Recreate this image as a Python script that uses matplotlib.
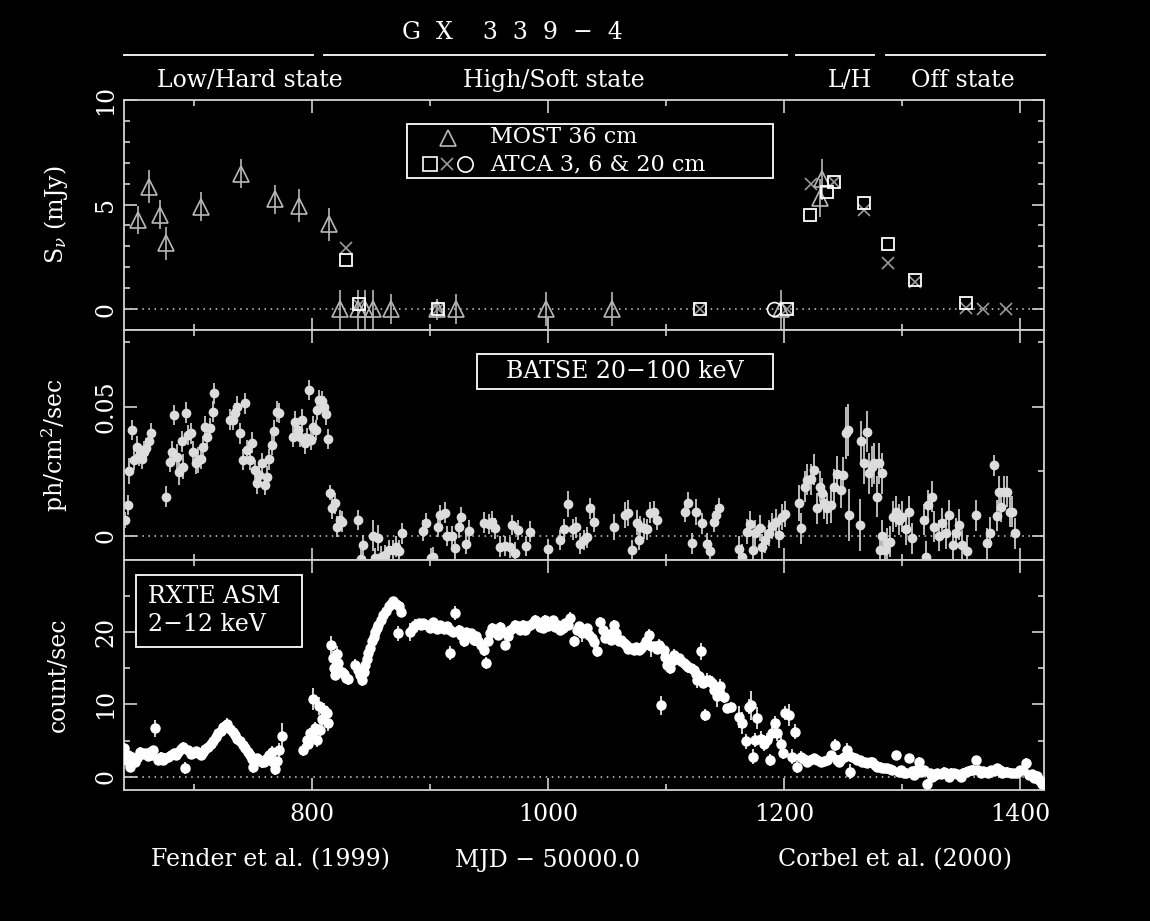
import numpy as np
import matplotlib
matplotlib.use("Agg")
import matplotlib.pyplot as plt
from matplotlib.ticker import MultipleLocator, FuncFormatter
from matplotlib.patches import Rectangle
from matplotlib.transforms import blended_transform_factory

plt.rcParams["font.family"] = ["DejaVu Serif"]
plt.rcParams["mathtext.fontset"] = "dejavuserif"

# ---- radio (top panel) ----
most_mjd = [652.6, 662, 671.5, 677, 706, 740, 769, 789, 815, 824, 839, 845, 852,
            867, 906, 922, 998, 1054, 1197, 1230, 1232]
most_flux = [4.24, 5.86, 4.52, 3.14, 4.9, 6.47, 5.25, 4.95, 4.05, 0, 0, 0, 0,
             0, 0, 0, 0, 0, 0, 5.3, 6.2]
most_err = [0.67, 0.8, 0.7, 0.8, 0.7, 0.7, 0.7, 0.8, 0.8, 0.93, 0.93, 0.93, 0.93,
            0.7, 0.5, 0.7, 0.8, 0.8, 0.93, 0.9, 1.0]

atca_sq_mjd = [829, 840, 907, 1129, 1202, 1222, 1236, 1242, 1268, 1288, 1311, 1354]
atca_sq_flux = [2.33, 0.24, 0.0, 0.0, 0.0, 4.5, 5.6, 6.1, 5.08, 3.1, 1.41, 0.3]
atca_x_mjd = [829, 840, 907, 1129, 1202, 1223, 1242, 1268, 1288, 1311, 1354, 1368, 1388]
atca_x_flux = [2.9, 0.2, 0.0, 0.0, 0.0, 6.0, 6.1, 4.76, 2.2, 1.3, 0.05, 0.0, 0.0]
atca_o_mjd = [1191]
atca_o_flux = [0.0]

# ---- BATSE 20-100 keV (middle panel) ----
bat_mjd = [
    642, 644, 645.5, 647.5, 649.8, 651.7, 654, 656, 658, 660, 662.4, 664,
    677, 680, 682, 683, 685.7, 688, 690, 691, 693.5, 695.5, 697.5,
    699.7, 702, 704, 706, 708, 709.6, 711.6, 714, 716, 717.5,
    730.8, 733, 735, 737, 739.3, 741.6, 743.5, 745, 747.8, 749.7, 752,
    753.5, 755.7, 757.7, 760, 762, 764, 766, 768, 770.4, 772.6,
    784.5, 786, 788, 790, 792, 794.4, 796.3, 797.5, 799.5, 801.4, 803.7, 804.8,
    806.5, 808.5, 810, 812, 813.6, 815.6, 817.5, 819.8, 821.8, 823.5, 825.5,
    839.5, 841.6, 843.8, 851.7, 853.7, 855.7, 858.5, 862, 865, 869, 871.5, 874, 876.3,
    894, 897, 901, 903, 906.5, 908.8, 913, 914.5, 918.7, 921, 924.3, 926.4, 931, 932.8,
    945.5, 949.7, 952.6, 955.4, 959.6, 964, 967.5, 969.5, 971.8, 975, 981.7, 984.5,
    999.8, 1010.5, 1013.4, 1016.8, 1021.3, 1024, 1027.4, 1030.3, 1033, 1035.4, 1038.7,
    1055.7, 1065.6, 1067.5, 1071, 1075, 1077, 1078, 1081, 1084, 1086.8, 1089.6, 1092.4,
    1116.4, 1118.4, 1122, 1125.7, 1130.5, 1134.8, 1137, 1140.4, 1142.7, 1144.6,
    1161.6, 1164.4, 1168.6, 1171.5, 1173.7, 1175.7, 1179.4, 1181.4,
    1184.2, 1187, 1190, 1192.7, 1195.5, 1198.4, 1200.4,
    1212.5, 1214.5, 1217.3, 1219.6, 1222.4, 1225.2, 1228, 1230, 1231.7, 1233.7,
    1236.5, 1239.3, 1242, 1245, 1248, 1250.2, 1252, 1254, 1255,
    1264.3, 1265.4, 1267.7, 1270, 1272, 1274, 1276.3, 1278.5, 1280.5, 1282.5, 1281,
    1283, 1285, 1287.2, 1290, 1292.4, 1294.3, 1297, 1300, 1302.8, 1305.7, 1308.5,
    1318.4, 1319.8, 1321.8, 1325.5, 1327, 1331, 1334, 1336.7, 1339.6, 1343.3, 1345.3, 1348, 1351,
    1354.6, 1362.3, 1372, 1374.3, 1377.7, 1380, 1382, 1383.4, 1386.2, 1389, 1391.3, 1393.3, 1395.3,
]
bat_flux = [
    0.0062, 0.012, 0.0253, 0.041, 0.0295, 0.0346, 0.031, 0.030, 0.0327, 0.034, 0.0366, 0.0398,
    0.0152, 0.0288, 0.0327, 0.0469, 0.0307, 0.0249, 0.0366, 0.0269, 0.0478, 0.0391, 0.0398,
    0.0327, 0.0282, 0.0295, 0.030, 0.0346, 0.0424, 0.0385, 0.0417, 0.0482, 0.0553,
    0.045, 0.045, 0.0476, 0.0501, 0.0398, 0.0295, 0.0514, 0.0333, 0.0295, 0.0362, 0.0256,
    0.0204, 0.0236, 0.0282, 0.0198, 0.023, 0.0297, 0.0353, 0.0408, 0.0482, 0.0476,
    0.0385, 0.0443, 0.0411, 0.0385, 0.045, 0.0359, 0.0379, 0.0566, 0.0372, 0.0424, 0.0411, 0.0488,
    0.0527, 0.0521, 0.0501, 0.0471, 0.0375, 0.0168, 0.0107, 0.0127, 0.0036, 0.0062, 0.0056,
    0.0062, -0.009, -0.0035, 0.0, -0.0087, -0.0009, -0.008, -0.0074, -0.0054, -0.0054, -0.0041, -0.0057, 0.001,
    0.002, 0.0049, -0.0087, -0.0083, 0.0036, 0.0081, 0.009, 0.0, 0.0, -0.0048, 0.0034, 0.0072, -0.003, 0.002,
    0.0052, 0.0047, 0.0055, 0.003, -0.0041, -0.0039, -0.0044, 0.0043, -0.0065, 0.0023, -0.0039, 0.0017,
    -0.0052, -0.0016, 0.0026, 0.0123, 0.0026, 0.0034, -0.003, -0.0016, -0.0005, 0.0107, 0.0055,
    0.0036, 0.0081, 0.0088, -0.0054, 0.0052, -0.0016, 0.0036, 0.003, 0.0026, 0.009, 0.0094, 0.0062,
    0.0094, 0.0129, -0.0028, 0.0094, 0.0049, -0.003, -0.0057, 0.0055, 0.0081, 0.0107,
    -0.0052, -0.008, 0.0017, 0.0047, -0.0054, 0.001, 0.003, -0.0041,
    -0.0016, 0.001, 0.0039, 0.0055, 0.0004, 0.0075, 0.0085,
    0.0127, 0.003, 0.0191, 0.0217, 0.022, 0.0256, 0.0107, 0.0191, 0.0165, 0.0127,
    0.0107, 0.012, 0.0191, 0.024, 0.0178, 0.0236, 0.040, 0.0411, 0.0081,
    0.0043, 0.0366, 0.0282, 0.0404, 0.0243, 0.0269, 0.0282, 0.0152, 0.0282, 0.0243, -0.0054,
    0.0, -0.0054, -0.0028, -0.0022, 0.0075, 0.0094, 0.0062, 0.0075, 0.0026, 0.0094, -0.0009,
    0.0062, -0.008, 0.012, 0.0152, 0.0036, 0.0, 0.0049, 0.001, 0.0081, -0.0035, 0.001, 0.0043, -0.0035,
    -0.0057, 0.0081, -0.0028, 0.0013, 0.0274, 0.0078, 0.0172, 0.0114, 0.0172, 0.0172, 0.0094, 0.0094, 0.001,
]
bat_err = [
    0.003, 0.004, 0.005, 0.004, 0.004, 0.004, 0.004, 0.004, 0.004, 0.004, 0.004, 0.004,
    0.004, 0.004, 0.004, 0.004, 0.005, 0.005, 0.004, 0.005, 0.004, 0.004, 0.004,
    0.004, 0.004, 0.005, 0.004, 0.004, 0.004, 0.004, 0.004, 0.004, 0.004,
    0.004, 0.004, 0.004, 0.004, 0.004, 0.004, 0.004, 0.004, 0.004, 0.004, 0.004,
    0.004, 0.004, 0.004, 0.004, 0.004, 0.004, 0.004, 0.004, 0.004, 0.004,
    0.004, 0.004, 0.004, 0.004, 0.004, 0.004, 0.004, 0.004, 0.004, 0.004, 0.004, 0.004,
    0.004, 0.004, 0.004, 0.004, 0.004, 0.003, 0.004, 0.004, 0.004, 0.004, 0.004,
    0.004, 0.004, 0.004, 0.006, 0.004, 0.005, 0.004, 0.004, 0.004, 0.004, 0.004, 0.004, 0.004,
    0.004, 0.004, 0.004, 0.004, 0.004, 0.004, 0.004, 0.004, 0.004, 0.004, 0.004, 0.004, 0.004, 0.004,
    0.004, 0.004, 0.004, 0.004, 0.004, 0.004, 0.004, 0.004, 0.004, 0.004, 0.004, 0.004,
    0.004, 0.004, 0.004, 0.005, 0.004, 0.004, 0.004, 0.004, 0.004, 0.004, 0.004,
    0.005, 0.005, 0.005, 0.004, 0.005, 0.004, 0.004, 0.004, 0.004, 0.004, 0.004, 0.004,
    0.004, 0.004, 0.004, 0.005, 0.004, 0.004, 0.004, 0.004, 0.004, 0.004,
    0.005, 0.005, 0.005, 0.005, 0.005, 0.005, 0.005, 0.005,
    0.005, 0.005, 0.005, 0.005, 0.005, 0.005, 0.005,
    0.007, 0.006, 0.006, 0.006, 0.006, 0.006, 0.006, 0.006, 0.006, 0.006,
    0.006, 0.007, 0.007, 0.007, 0.007, 0.007, 0.010, 0.010, 0.010,
    0.010, 0.008, 0.008, 0.008, 0.008, 0.008, 0.008, 0.008, 0.008, 0.008, 0.006,
    0.006, 0.006, 0.006, 0.006, 0.006, 0.006, 0.006, 0.006, 0.006, 0.006, 0.006,
    0.006, 0.006, 0.006, 0.006, 0.006, 0.006, 0.006, 0.006, 0.006, 0.006, 0.006, 0.006, 0.006,
    0.006, 0.006, 0.006, 0.006, 0.004, 0.006, 0.006, 0.006, 0.006, 0.006, 0.006, 0.006, 0.006,
]

# ---- RXTE ASM 2-12 keV (bottom panel), main trace ----
asm_mjd = [
    641, 643, 646, 650, 654.5, 659, 663, 666, 667, 670,
    674, 678.5, 683, 687, 691, 692.7, 695.5, 699.7, 704, 708,
    712.4, 716.7, 720.9, 725, 728, 730.8, 735, 739.3, 743.5, 747.8,
    750.6, 753.5, 757.7, 762, 766, 769, 772.6, 775, 793, 795.8,
    798.6, 801.4, 804.3, 807, 810, 812.8, 814, 816, 817.8, 819.8,
    822.6, 825.5, 829, 839.5, 842.4, 845, 848, 850.9, 853.7, 856.5,
    860.7, 865, 869, 873.5, 873, 883.4, 887.6, 890.4, 894.6, 900,
    906, 911.6, 917, 916.7, 921.5, 924.3, 928.6, 932.8, 937, 941,
    945.5, 947.8, 951, 955, 959.6, 963.9, 968, 972.4, 976.6, 980.8,
    985, 989.3, 993.5, 997.8, 1002, 1006, 1010.5, 1014.7, 1019, 1021.7,
    1024.6, 1028.9, 1033, 1037, 1041.6, 1044.4, 1048.6, 1053, 1056, 1060,
    1064, 1068, 1072.6, 1076.9, 1081, 1085.3, 1087, 1094, 1096, 1098,
    1101, 1103.7, 1106.5, 1110.7, 1115, 1119, 1123.5, 1126.4, 1129.8, 1133.4,
    1134.8, 1139, 1143, 1146, 1151.7, 1154.6, 1161.6, 1164.5, 1167.3, 1170,
    1172, 1173.8, 1175.7, 1177, 1180, 1182.7, 1185.6, 1188, 1190, 1192,
    1194, 1197, 1199, 1200.3, 1204, 1206.8, 1208.8, 1211, 1213.9, 1219.6,
    1225, 1230.8, 1236.5, 1239.3, 1242.7, 1246.3, 1250.6, 1253.5, 1255.4, 1257.6,
    1261.9, 1266, 1270.4, 1274.6, 1279, 1283, 1287.3, 1291.6, 1294.4, 1297,
    1301.4, 1305.7, 1309.9, 1314, 1318.4, 1321.2, 1325.5, 1329.7, 1335.3, 1339.6,
    1343.8, 1349.5, 1353.7, 1358, 1362.2, 1366.4, 1370.6, 1374.9, 1380.5, 1384.8,
    1389, 1394.7, 1399.7, 1404.5, 1407.4, 1411.6, 1415.9, 1418.7,
]
asm_rate = [
    3.95, 2.35, 1.4, 2.1, 3.5, 3.3, 3.5, 3.7, 6.7, 2.35,
    2.35, 2.8, 3.3, 3.5, 4.2, 1.2, 3.7, 3.35, 3.3, 3.5,
    4.2, 5.0, 6.0, 6.9, 7.3, 6.6, 5.8, 4.9, 3.95, 3.0,
    1.4, 2.6, 2.1, 2.6, 3.5, 1.05, 3.7, 5.6, 3.7, 5.1,
    6.0, 10.7, 5.1, 6.5, 9.2, 8.8, 7.4, 18.2, 16.4, 14.1,
    15.7, 14.5, 13.7, 14.8, 13.4, 15.4, 17.1, 18.7, 20.0, 21.0,
    22.3, 23.5, 24.2, 23.5, 19.8, 20.0, 21.0, 21.2, 21.2, 20.5,
    20.4, 20.4, 20.3, 17.1, 22.6, 20.3, 18.7, 19.4, 18.9, 18.7,
    17.5, 15.7, 19.8, 20.3, 20.7, 18.2, 20.3, 21.0, 20.3, 20.3,
    21.0, 21.7, 20.7, 21.7, 21.2, 20.7, 20.3, 21.2, 21.9, 18.7,
    20.3, 19.8, 20.5, 19.1, 17.3, 21.4, 19.1, 18.9, 21.0, 18.7,
    18.4, 17.7, 17.5, 17.5, 18.2, 19.6, 18.0, 18.2, 9.9, 17.5,
    15.4, 15.0, 16.8, 16.4, 15.7, 15.2, 14.8, 13.4, 17.3, 8.55,
    13.4, 12.9, 11.1, 12.5, 9.45, 9.7, 8.3, 7.4, 4.9, 9.7,
    9.9, 2.8, 5.1, 8.1, 5.3, 4.6, 5.1, 2.35, 6.0, 7.4,
    6.0, 4.6, 3.3, 8.8, 8.55, 2.8, 6.25, 1.4, 2.8, 2.1,
    2.6, 2.1, 2.35, 3.0, 4.4, 2.1, 2.8, 3.7, 0.73, 2.8,
    2.35, 2.1, 1.9, 2.1, 1.4, 1.2, 1.2, 0.97, 3.0, 0.73,
    0.5, 2.6, 0.28, 2.1, 0.97, -0.9, 0.04, 0.5, 0.73, 0.04,
    0.5, 0.04, 0.73, 0.97, 2.35, 0.5, 0.73, 0.97, 1.2, 0.5,
    0.73, 0.5, 0.97, 1.97, 0.28, -0.18, -0.4, -0.9,
]
asm_err = [
    0.8, 0.6, 0.6, 0.6, 0.6, 0.6, 0.6, 0.6, 1.2, 0.6,
    0.6, 0.6, 0.6, 0.6, 0.6, 0.8, 0.6, 0.6, 0.6, 0.6,
    0.6, 0.6, 0.6, 0.6, 0.8, 0.6, 0.6, 0.6, 0.6, 0.6,
    0.8, 0.6, 0.8, 0.6, 0.8, 0.8, 1.0, 1.8, 0.8, 0.8,
    0.8, 1.5, 1.0, 1.0, 1.0, 1.0, 1.0, 1.2, 1.0, 0.8,
    0.8, 0.8, 0.8, 0.8, 0.8, 0.8, 0.8, 0.6, 0.6, 0.6,
    0.6, 0.6, 0.6, 0.6, 1.0, 1.2, 0.8, 0.6, 0.6, 0.6,
    0.6, 0.6, 0.6, 1.0, 1.0, 0.6, 0.8, 0.6, 0.8, 0.8,
    0.8, 0.8, 0.6, 0.6, 0.6, 0.6, 0.6, 0.6, 0.6, 0.6,
    0.6, 0.6, 0.6, 0.6, 0.6, 0.6, 0.6, 0.6, 0.8, 0.8,
    0.6, 1.2, 0.6, 0.6, 0.8, 0.6, 0.6, 0.6, 0.6, 0.6,
    0.6, 0.6, 0.6, 0.6, 0.6, 0.8, 1.5, 0.8, 1.3, 0.8,
    0.8, 0.8, 0.8, 0.6, 0.6, 0.8, 0.8, 1.2, 1.2, 0.8,
    1.0, 1.0, 1.5, 1.0, 0.6, 0.6, 1.5, 1.5, 1.0, 1.0,
    2.0, 1.0, 1.0, 1.5, 1.0, 1.0, 1.0, 0.8, 1.0, 1.0,
    1.0, 1.0, 0.8, 1.0, 1.5, 1.0, 1.0, 0.8, 0.8, 0.6,
    0.6, 0.6, 0.6, 0.6, 0.8, 0.6, 0.6, 1.0, 1.0, 0.6,
    0.6, 0.6, 0.6, 0.6, 0.6, 0.6, 0.6, 0.6, 0.6, 0.6,
    0.6, 0.6, 0.6, 0.6, 0.6, 0.6, 0.6, 0.6, 0.6, 0.6,
    0.6, 0.6, 0.6, 0.6, 0.6, 0.6, 0.6, 0.6, 0.6, 0.6,
    0.6, 0.6, 0.6, 0.6, 0.6, 0.6, 0.6, 0.6,
]

asm2_mjd = [
    644.5, 648, 652, 656.5, 661, 665, 672, 676, 680.5, 685,
    689, 697.5, 701.8, 706, 710, 714.5, 718.8, 723, 726.5, 732.9,
    737, 741.4, 745.6, 749.5, 755.5, 759.8, 764, 767.5, 770.8, 797,
    800, 803, 806, 809, 818.7, 821, 827, 831, 837, 841,
    844, 846.5, 849.5, 852.3, 855, 858.6, 862.8, 867, 871, 875.5,
    885.5, 892.5, 897.3, 903, 908.8, 914.3, 919.3, 926.5, 930.7, 935,
    939, 943.2, 949.4, 953, 957.3, 961.7, 966, 970.2, 974.5, 978.7,
    982.9, 987.2, 991.4, 995.7, 999.9, 1004, 1008.2, 1012.6, 1016.8, 1026.7,
    1031, 1035, 1039.3, 1046.5, 1050.8, 1054.5, 1058, 1062, 1066, 1070.3,
    1074.7, 1079, 1083.2, 1090, 1092, 1099.5, 1102.3, 1105, 1108.6, 1112.8,
    1117, 1121.2, 1125, 1128, 1131.6, 1137, 1141, 1144.5, 1148.8, 1216.7,
    1222.3, 1227.9, 1233.6, 1244.5, 1248.5, 1252, 1259.8, 1264, 1268.2, 1272.5,
    1276.8, 1281, 1285.2, 1289.5, 1299.2, 1303.5, 1308, 1312, 1316.2, 1323.4,
    1327.6, 1332.5, 1337.4, 1341.7, 1346.6, 1351.6, 1355.8, 1360.1, 1364.3, 1368.5,
    1372.7, 1377.7, 1382.6, 1386.9, 1391.8, 1397.2, 1402.1, 1409.5, 1413.7, 1417.3,
]
asm2_rate = [
    3.0, 2.8, 2.6, 3.2, 2.9, 3.0, 2.8, 2.6, 3.0, 3.0,
    3.8, 3.2, 3.6, 3.0, 3.8, 4.6, 5.5, 6.4, 7.0, 6.2,
    5.3, 4.4, 3.4, 2.5, 2.3, 2.0, 3.0, 2.0, 2.2, 4.5,
    5.8, 6.8, 9.8, 8.0, 15.0, 17.0, 14.2, 13.5, 15.5, 14.0,
    14.5, 16.3, 17.8, 19.3, 20.5, 21.6, 22.9, 23.9, 23.8, 22.8,
    20.6, 20.9, 21.0, 21.3, 20.9, 20.8, 20.0, 19.6, 20.0, 19.8,
    19.4, 18.2, 18.8, 20.6, 19.6, 20.0, 19.5, 20.6, 20.8, 21.0,
    20.8, 21.2, 21.3, 20.5, 20.8, 21.6, 20.9, 20.6, 20.9, 20.8,
    20.2, 19.6, 18.6, 20.3, 19.6, 19.8, 19.8, 18.9, 18.2, 17.8,
    17.9, 17.8, 18.8, 18.0, 17.7, 16.5, 15.9, 16.0, 16.2, 16.0,
    15.5, 15.0, 14.2, 13.9, 13.0, 13.2, 12.0, 11.9, 11.0, 2.5,
    2.4, 2.3, 2.2, 2.4, 2.5, 2.9, 2.6, 2.3, 2.0, 2.0,
    1.7, 1.4, 1.2, 1.1, 0.9, 0.6, 0.8, 1.0, 0.7, 0.5,
    0.3, 0.4, 0.5, 0.6, 0.4, 0.6, 0.8, 1.0, 0.9, 0.8,
    0.6, 0.8, 0.9, 0.7, 0.6, 0.5, 0.9, 0.4, 0.2, -0.5,
]
asm2_err = [
    0.6, 0.6, 0.6, 0.6, 0.6, 0.6, 0.6, 0.6, 0.6, 0.6,
    0.6, 0.6, 0.6, 0.6, 0.6, 0.6, 0.6, 0.6, 0.6, 0.6,
    0.6, 0.6, 0.6, 0.6, 0.6, 0.6, 0.6, 0.6, 0.6, 0.8,
    0.8, 0.8, 1.2, 1.0, 1.0, 1.0, 0.8, 0.8, 0.8, 0.8,
    0.8, 0.8, 0.6, 0.6, 0.6, 0.6, 0.6, 0.6, 0.6, 0.6,
    0.6, 0.6, 0.6, 0.6, 0.6, 0.6, 0.6, 0.6, 0.6, 0.6,
    0.6, 0.8, 0.6, 0.6, 0.6, 0.6, 0.6, 0.6, 0.6, 0.6,
    0.6, 0.6, 0.6, 0.6, 0.6, 0.6, 0.6, 0.6, 0.6, 0.6,
    0.6, 0.6, 0.8, 0.6, 0.6, 0.6, 0.6, 0.6, 0.6, 0.6,
    0.6, 0.6, 0.6, 0.6, 0.6, 0.6, 0.6, 0.6, 0.6, 0.6,
    0.6, 0.6, 0.8, 0.8, 0.8, 0.8, 0.8, 0.8, 0.8, 0.6,
    0.6, 0.6, 0.6, 0.6, 0.6, 0.6, 0.6, 0.6, 0.6, 0.6,
    0.6, 0.6, 0.6, 0.6, 0.6, 0.6, 0.6, 0.6, 0.6, 0.6,
    0.6, 0.6, 0.6, 0.6, 0.6, 0.6, 0.6, 0.6, 0.6, 0.6,
    0.6, 0.6, 0.6, 0.6, 0.6, 0.6, 0.6, 0.6, 0.6, 0.6,
]

# ---- state bars above the plot ----
state_names = ["Low/Hard state", "High/Soft state", "L/H", "Off state"]
state_start = [641, 810, 1210, 1286]
state_end = [801, 1202, 1276, 1421]
state_text_mjd = [748, 1005, 1256, 1351]

XLIM = (641, 1420)
FG = "#d2d2d2"
FS = 17


def style_axis(ax, ymaj, ymin, ylim):
    ax.set_facecolor("black")
    ax.set_xlim(*XLIM)
    ax.set_ylim(*ylim)
    for s in ax.spines.values():
        s.set_color(FG)
        s.set_linewidth(1.3)
    ax.xaxis.set_major_locator(MultipleLocator(200))
    ax.xaxis.set_minor_locator(MultipleLocator(100))
    ax.yaxis.set_major_locator(MultipleLocator(ymaj))
    ax.yaxis.set_minor_locator(MultipleLocator(ymin))
    ax.tick_params(which="both", direction="in", top=True, right=True,
                   colors=FG, labelcolor="white", labelsize=FS)
    ax.tick_params(which="major", length=9, width=1.2)
    ax.tick_params(which="minor", length=4.5, width=1.2)
    ax.tick_params(axis="y", labelrotation=90, pad=5)
    ax.tick_params(axis="x", pad=9)
    ax.yaxis.set_major_formatter(FuncFormatter(lambda v, p: f"{v:g}"))
    for lab in ax.get_yticklabels():
        lab.set_va("center")
    ax.axhline(0, color=FG, lw=1.1, ls=(0, (1, 3)), zorder=1)
    ax.yaxis.set_label_coords(-0.059, 0.5)


fig = plt.figure(figsize=(11.5, 9.21), dpi=100, facecolor="black")
ax1 = fig.add_axes([0.1078, 0.6417, 0.800, 0.2497])
ax2 = fig.add_axes([0.1078, 0.3920, 0.800, 0.2497])
ax3 = fig.add_axes([0.1078, 0.1422, 0.800, 0.2497])

style_axis(ax1, 5, 1, (-1.0, 10.0))
style_axis(ax2, 0.05, 0.025, (-0.0093, 0.0798))
style_axis(ax3, 10, 5, (-1.8, 29.9))
ax1.tick_params(labelbottom=False)
ax2.tick_params(labelbottom=False)

# top panel: radio
ax1.errorbar(most_mjd, most_flux, yerr=most_err, fmt="^", ms=11, mfc="none",
             mec="#b8b8b8", mew=1.2, ecolor="#b8b8b8", elinewidth=1.2, capsize=0, zorder=3)
ax1.plot(atca_x_mjd, atca_x_flux, "x", ms=8, mec="#9a9a9a", mew=1.2, zorder=3)
ax1.plot(atca_sq_mjd, atca_sq_flux, "s", ms=9, mfc="none", mec="white", mew=1.3, zorder=4)
ax1.plot(atca_o_mjd, atca_o_flux, "o", ms=10, mfc="none", mec="white", mew=1.2, zorder=4)
ax1.set_ylabel(r"S$_\nu$ (mJy)", color="white", fontsize=FS)

# radio legend box
ax1.add_patch(Rectangle((0.3076, 0.661), 0.3978, 0.2346, transform=ax1.transAxes,
                        facecolor="black", edgecolor="white", lw=1.3, zorder=5))
ax1.plot([0.3522], [0.835], "^", ms=11, mfc="none", mec="#b8b8b8", mew=1.2,
         transform=ax1.transAxes, zorder=6)
ax1.plot([0.3326], [0.720], "s", ms=10, mfc="none", mec="white", mew=1.2,
         transform=ax1.transAxes, zorder=6)
ax1.plot([0.3510], [0.720], "x", ms=9, mec="#9a9a9a", mew=1.2,
         transform=ax1.transAxes, zorder=6)
ax1.plot([0.3707], [0.720], "o", ms=11, mfc="none", mec="white", mew=1.2,
         transform=ax1.transAxes, zorder=6)
ax1.text(0.398, 0.838, "MOST 36 cm", transform=ax1.transAxes, color="white",
         fontsize=FS - 1, va="center", ha="left", zorder=6)
ax1.text(0.398, 0.718, "ATCA 3, 6 & 20 cm", transform=ax1.transAxes, color="white",
         fontsize=FS - 1, va="center", ha="left", zorder=6)

# state bars
tr = blended_transform_factory(ax1.transData, ax1.transAxes)
for name, s, e, xm in zip(state_names, state_start, state_end, state_text_mjd):
    ax1.plot([s, e], [1.196, 1.196], color="white", lw=1.3, transform=tr, clip_on=False)
    ax1.text(xm, 1.087, name, transform=tr, color="white", fontsize=FS,
             ha="center", va="center")

# middle panel: BATSE
ax2.errorbar(bat_mjd, bat_flux, yerr=bat_err, fmt="o", ms=6, mfc="#dcdcdc",
             mec="#dcdcdc", ecolor="#c8c8c8", elinewidth=1.3, capsize=0, zorder=3)
ax2.set_ylabel(r"ph/cm$^2$/sec", color="white", fontsize=FS)
ax2.add_patch(Rectangle((0.3837, 0.7435), 0.3217, 0.1522, transform=ax2.transAxes,
                        facecolor="black", edgecolor="white", lw=1.3, zorder=5))
ax2.text(0.5446, 0.8196, "BATSE 20\u2212100 keV", transform=ax2.transAxes,
         color="white", fontsize=FS, ha="center", va="center", zorder=6)

# bottom panel: ASM
for xs, ys, es in [(asm_mjd, asm_rate, asm_err), (asm2_mjd, asm2_rate, asm2_err)]:
    ax3.errorbar(xs, ys, yerr=es, fmt="o", ms=6.5, mfc="white", mec="white",
                 ecolor="#e6e6e6", elinewidth=1.3, capsize=0, zorder=3)
ax3.set_ylabel("count/sec", color="white", fontsize=FS)
ax3.add_patch(Rectangle((0.013, 0.622), 0.1805, 0.313, transform=ax3.transAxes,
                        facecolor="black", edgecolor="white", lw=1.3, zorder=5))
ax3.text(0.026, 0.78, "RXTE ASM\n2\u221212 keV", transform=ax3.transAxes,
         color="white", fontsize=FS, ha="left", va="center", linespacing=1.25, zorder=6)

# figure texts
fig.text(0.446, 0.9642, "G  X    3  3  9  \u2212  4", color="white", fontsize=FS,
         ha="center", va="center")
fig.text(0.235, 0.0662, "Fender et al. (1999)", color="white", fontsize=FS,
         ha="center", va="center")
fig.text(0.4765, 0.0662, "MJD \u2212 50000.0", color="white", fontsize=FS,
         ha="center", va="center")
fig.text(0.778, 0.0662, "Corbel et al. (2000)", color="white", fontsize=FS,
         ha="center", va="center")

fig.savefig("out.png", dpi=100, facecolor="black")
